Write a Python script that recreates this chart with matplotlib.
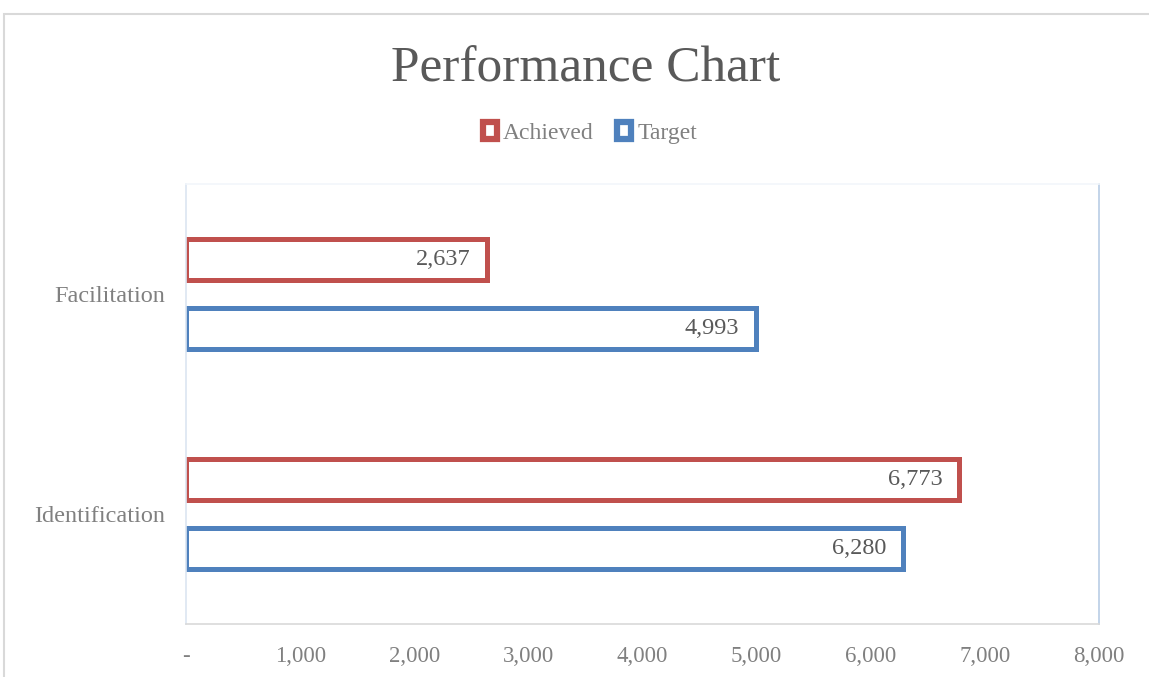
import matplotlib
matplotlib.use("Agg")
import matplotlib.pyplot as plt
from matplotlib.patches import Patch, Rectangle
from matplotlib.ticker import FuncFormatter

categories = ["Identification", "Facilitation"]
achieved = [6773, 2637]
target = [6280, 4993]
series_names = ["Achieved", "Target"]
xticks = [0, 1000, 2000, 3000, 4000, 5000, 6000, 7000, 8000]

RED = "#C0504D"
BLUE = "#4F81BD"
TEXT = "#595959"
TICK = "#808080"

plt.rcParams["font.family"] = ["Liberation Serif", "DejaVu Serif"]


def fmt(v, pos=None):
    if v == 0:
        return "-"
    return f"{int(v):,}"


def main():
    fig = plt.figure(figsize=(11.49, 6.77), dpi=100)
    # outer chart frame
    fig.patches.append(Rectangle((4 / 1149, -0.1), 1.2, 1 - 14 / 677 + 0.1,
                                 transform=fig.transFigure, fill=False,
                                 edgecolor="#d9d9d9", linewidth=1.5))
    ax = fig.add_axes([186 / 1149, 1 - 624 / 677, 913 / 1149, 440 / 677])

    y = list(range(len(categories)))
    h = 0.186
    off = 0.157
    bars_a = ax.barh([v + off for v in y], achieved, height=h, color="white",
                     edgecolor=RED, linewidth=3.6, label=series_names[0])
    bars_t = ax.barh([v - off for v in y], target, height=h, color="white",
                     edgecolor=BLUE, linewidth=3.6, label=series_names[1])
    for bars in (bars_a, bars_t):
        for b in bars:
            w = b.get_width()
            ax.annotate(fmt(w), (w, b.get_y() + b.get_height() / 2),
                        xytext=(-12, 0), textcoords="offset points",
                        ha="right", va="center", fontsize=17.5, color=TEXT)

    ax.set_xlim(0, 8000)
    ax.set_ylim(-0.5, 1.5)
    ax.set_xticks(xticks)
    ax.xaxis.set_major_formatter(FuncFormatter(fmt))
    ax.set_yticks(y)
    ax.set_yticklabels(categories)
    ax.tick_params(axis="x", length=0, pad=16, labelsize=16.5, labelcolor=TICK)
    ax.tick_params(axis="y", length=0, pad=15, labelsize=17.5, labelcolor=TICK)

    ax.spines["left"].set_color("#dbe5f1")
    ax.spines["right"].set_color("#b9cde5")
    ax.spines["top"].set_color("#f2f6fb")
    ax.spines["bottom"].set_color("#d9d9d9")
    for s in ax.spines.values():
        s.set_linewidth(1.2)

    fig.text(586 / 1149, 1 - 69 / 677, "Performance Chart", ha="center",
             va="center", fontsize=37, color=TEXT)

    handles = [Patch(facecolor="white", edgecolor=RED, linewidth=4.5),
               Patch(facecolor="white", edgecolor=BLUE, linewidth=4.5)]
    fig.legend(handles, series_names, loc="center",
               bbox_to_anchor=(590 / 1149, 1 - 133 / 677), ncol=2,
               frameon=False, fontsize=17, handlelength=0.6, handleheight=0.75,
               handletextpad=0.25, columnspacing=1.0, labelcolor=TICK)

    fig.savefig("out.png", dpi=100, facecolor="white")


if __name__ == "__main__":
    main()
